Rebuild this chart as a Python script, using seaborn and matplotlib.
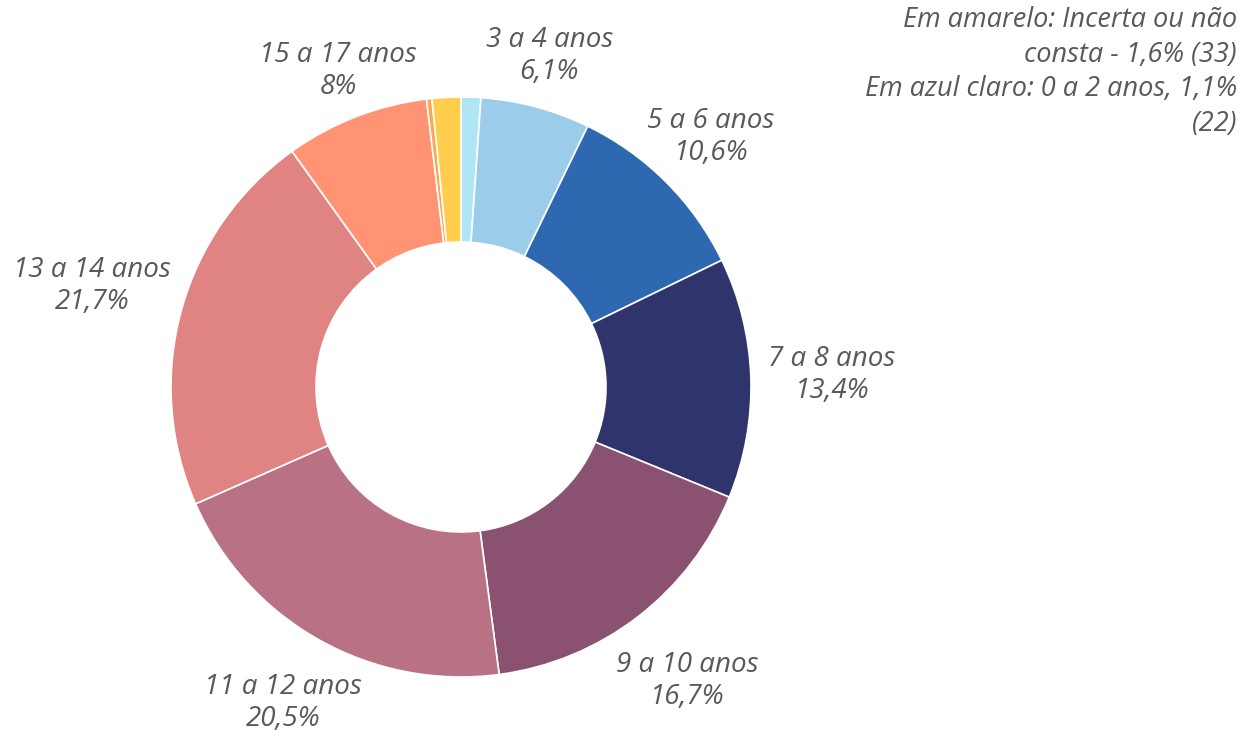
import matplotlib
matplotlib.use("Agg")
import matplotlib.pyplot as plt
import seaborn as sns
import numpy as np

# faixas etarias, sentido horario a partir do topo
faixas = ["0 a 2 anos", "3 a 4 anos", "5 a 6 anos", "7 a 8 anos", "9 a 10 anos",
          "11 a 12 anos", "13 a 14 anos", "15 a 17 anos", "18 anos ou mais", "Incerta ou não consta"]
percentuais = [1.1, 6.1, 10.6, 13.4, 16.7, 20.5, 21.7, 8.0, 0.3, 1.6]
rotulos = ["", "3 a 4 anos\n6,1%", "5 a 6 anos\n10,6%", "7 a 8 anos\n13,4%", "9 a 10 anos\n16,7%",
           "11 a 12 anos\n20,5%", "13 a 14 anos\n21,7%", "15 a 17 anos\n8%", "", ""]
cores = ["#AEE6F6", "#9BCCEA", "#2E68B1", "#30346C", "#8A5170", "#B97284",
         "#E08383", "#FF9373", "#FFA64D", "#FFCD4C"]
dist_rotulos = [0, 1.18, 1.22, 1.28, 1.28, 1.25, 1.32, 1.17, 0, 0]

nota = "Em amarelo: Incerta ou não\nconsta - 1,6% (33)\nEm azul claro: 0 a 2 anos, 1,1%\n(22)"

sns.set_style("white")
plt.rcParams['font.family'] = ['Open Sans', 'DejaVu Sans']

fig = plt.figure(figsize=(12.39, 7.31), dpi=100)
ax = fig.add_axes([0, 0, 1, 1])

R = 290  # raio em pixels
cx, cy = 461, 731 - 387

wedges, _ = ax.pie(percentuais, colors=cores, startangle=90, counterclock=False,
                   radius=1, wedgeprops=dict(width=0.5, edgecolor="white", linewidth=1.2))

# rotulos ao redor da rosca
total = sum(percentuais)
acum = 0
for val, txt, d in zip(percentuais, rotulos, dist_rotulos):
    meio = acum + val / 2
    acum += val
    if not txt:
        continue
    ang = np.deg2rad(90 - 360 * meio / total)
    ax.text(d * np.cos(ang), d * np.sin(ang), txt, ha="center", va="center",
            fontsize=20, style="italic", color="#595959", linespacing=1.2)

ax.text((1237 - cx) / R, (731 - 6 - cy) / R, nota, ha="right", va="top",
        fontsize=19.5, style="italic", color="#595959", linespacing=1.32)

ax.set_xlim(-cx / R, (1239 - cx) / R)
ax.set_ylim(-cy / R, (731 - cy) / R)
ax.set_aspect("auto")
ax.axis("off")

fig.savefig("out.png", dpi=100, facecolor="white")
